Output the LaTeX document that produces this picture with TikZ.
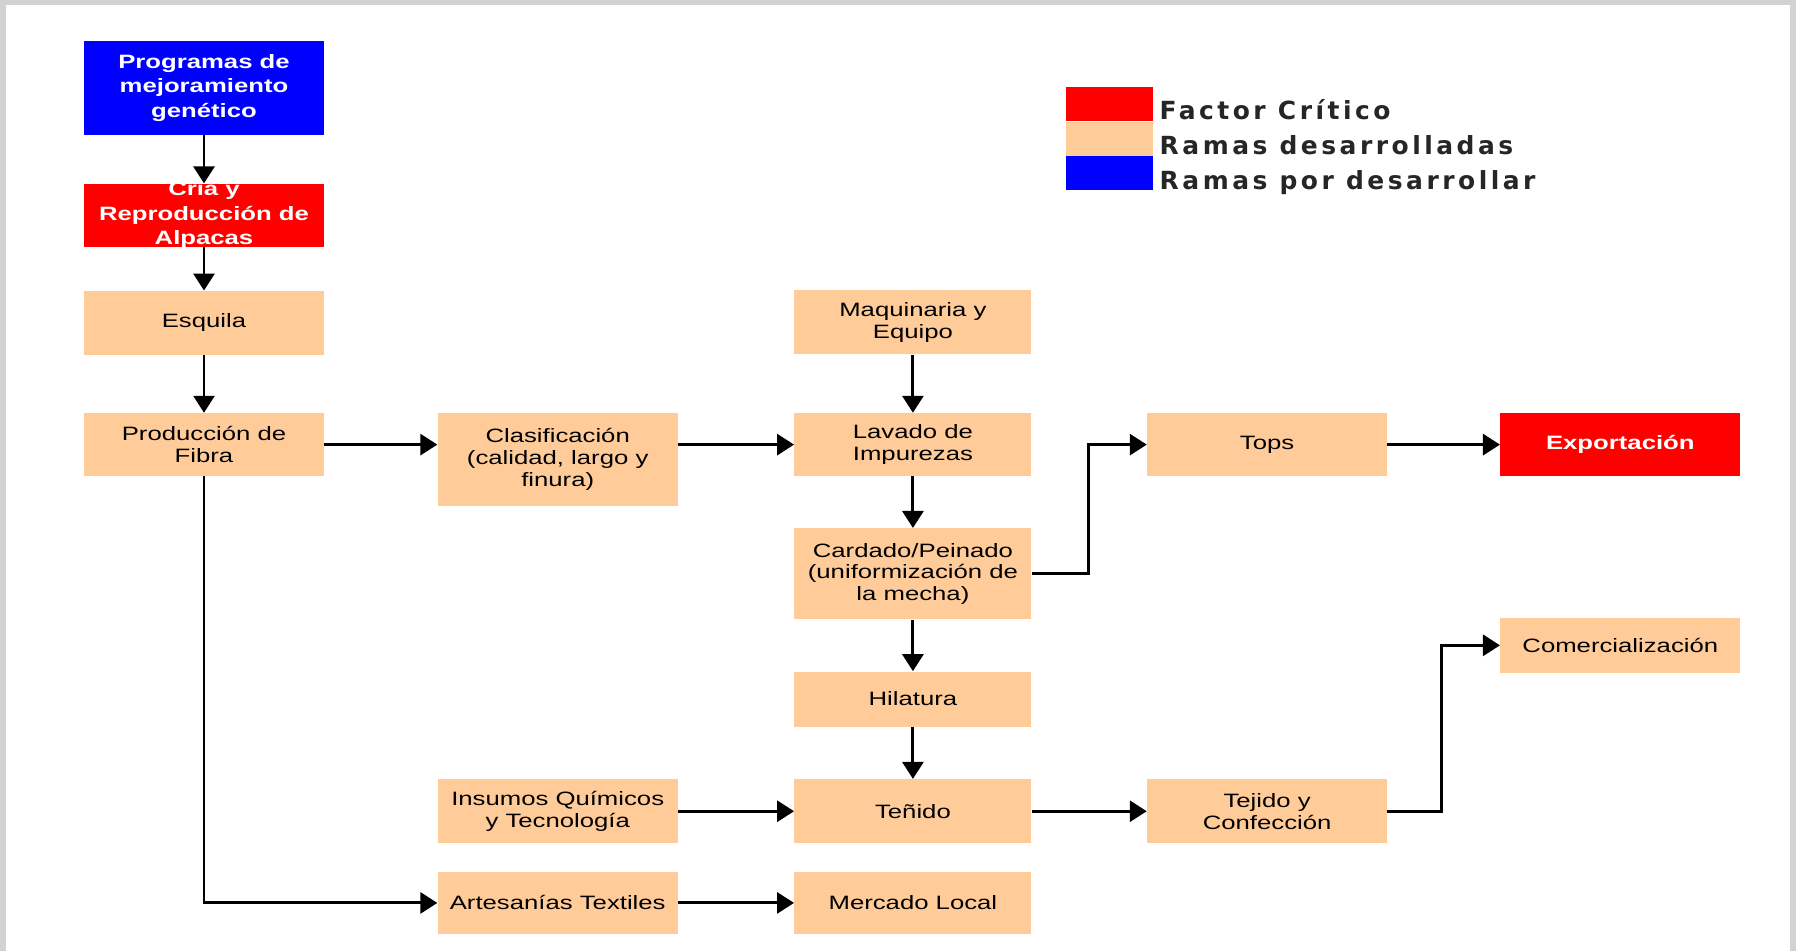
\documentclass[tikz,border=0pt]{standalone}
\usepackage{fontspec}
\usepackage{tikz}
\usetikzlibrary{arrows.meta, positioning}
\newfontfamily\cajafont[FakeStretch=1.33]{Liberation Sans}
\newfontfamily\leyendafont[LetterSpace=14]{DejaVu Sans}
\definecolor{rojocritico}{RGB}{255,0,0}
\definecolor{durazno}{RGB}{255,204,153}
\definecolor{azulrama}{RGB}{0,0,255}
\newcommand{\anchocaja}{4.8cm}
\newcommand{\altocaja}{1.28cm}
\tikzstyle{desarrollada} = [% rama desarrollada
  rectangle,
  minimum width=\anchocaja,
  minimum height=\altocaja,
  inner sep=0pt,
  align=center,
  text centered,
  fill=durazno,
  font=\cajafont\fontsize{11}{12.4}\selectfont
  ]
\tikzstyle{critico} = [% factor critico
  desarrollada,
  fill=rojocritico,
  text=white,
  font=\cajafont\bfseries\fontsize{11}{14}\selectfont
  ]
\tikzstyle{pordesarrollar} = [% rama por desarrollar
  critico,
  fill=azulrama
  ]
\tikzstyle{textocritico} = [% texto blanco que sobresale
  align=center,
  text=white,
  font=\cajafont\bfseries\fontsize{11}{14}\selectfont
  ]
\tikzstyle{leyenda} = [% cuadro de la leyenda
  rectangle,
  minimum width=1.74cm,
  minimum height=0.68cm,
  inner sep=0pt
  ]
\tikzstyle{leyendatexto} = [% texto de la leyenda
  anchor=base west,
  inner sep=0pt,
  text=black!85,
  font=\leyendafont\bfseries\fontsize{14.2}{16}\selectfont
  ]
\tikzstyle{arrow} = [% conector
  line width=1.7pt,
  ->,
  >={Triangle[length=0.34cm,width=0.42cm]}
  ]

\begin{document}
\begin{tikzpicture}

%%% Fondo
\useasboundingbox (0,0) rectangle (35.92,-19.02);
\fill[gray!35] (0,0) rectangle (35.92,-19.02);
\fill[white] (0.12,-0.1) rectangle (35.8,-19.02);

%%% Nodes
\node[pordesarrollar, minimum height=1.88cm] (programas) at (4.08,-1.76) {Programas de\\mejoramiento\\genético};
\node[critico, minimum height=1.26cm, below=0.96cm of programas,
  label={[textocritico]center:Cría y\\Reproducción de\\Alpacas}] (cria) {};
\node[desarrollada, below=0.87cm of cria] (esquila) {Esquila};
\node[desarrollada, minimum height=1.26cm, below=1.15cm of esquila] (produccion) {Producción de\\Fibra};
\node[desarrollada, minimum height=1.86cm, right=2.26cm of produccion.north east, anchor=north west] (clasificacion) {Clasificación\\(calidad, largo y\\finura)};
\node[desarrollada, minimum width=4.74cm, minimum height=1.26cm, right=2.32cm of clasificacion.north east, anchor=north west] (lavado) {Lavado de\\Impurezas};
\node[desarrollada, minimum width=4.74cm, above=1.16cm of lavado] (maquinaria) {Maquinaria y\\Equipo};
\node[desarrollada, minimum width=4.74cm, minimum height=1.82cm, below=1.03cm of lavado] (cardado) {Cardado/Peinado\\(uniformización de\\la mecha)};
\node[desarrollada, minimum width=4.74cm, minimum height=1.1cm, below=1.03cm of cardado] (hilatura) {Hilatura};
\node[desarrollada, minimum width=4.74cm, below=1.04cm of hilatura] (tenido) {Teñido};
\node[desarrollada, minimum width=4.74cm, minimum height=1.24cm, below=0.56cm of tenido] (mercado) {Mercado Local};
\node[desarrollada, left=2.32cm of tenido] (insumos) {Insumos Químicos\\y Tecnología};
\node[desarrollada, minimum height=1.24cm, left=2.32cm of mercado] (artesanias) {Artesanías Textiles};
\node[desarrollada, minimum height=1.26cm, right=2.3cm of lavado] (tops) {Tops};
\node[critico, minimum height=1.26cm, right=2.25cm of tops] (exportacion) {Exportación};
\node[desarrollada, minimum height=1.1cm, below=2.82cm of exportacion] (comercializacion) {Comercialización};
\node[desarrollada, right=2.3cm of tenido] (tejido) {Tejido y\\Confección};

%%% Leyenda
\node[leyenda, fill=rojocritico] (leycritico) at (22.19,-2.08) {};
\node[leyenda, fill=durazno, below=0pt of leycritico] (leydesarrolladas) {};
\node[leyenda, fill=azulrama, below=0pt of leydesarrolladas] (leypordesarrollar) {};
\node[leyendatexto] (txtcritico) at ([xshift=0.12cm, yshift=0.03cm]leycritico.south east) {Factor Crítico};
\node[leyendatexto] (txtdesarrolladas) at ([xshift=0.12cm, yshift=0.03cm]leydesarrolladas.south east) {Ramas desarrolladas};
\node[leyendatexto] (txtpordesarrollar) at ([xshift=0.12cm, yshift=0.03cm]leypordesarrollar.south east) {Ramas por desarrollar};

%%% Connectors
\draw[arrow] (programas) -- (cria);
\draw[arrow] (cria) -- (esquila);
\draw[arrow] (esquila) -- (produccion);
\draw[arrow] (produccion) -- (produccion -| clasificacion.west);
\draw[arrow] (clasificacion.east |- produccion) -- (lavado);
\draw[arrow] (maquinaria) -- (lavado);
\draw[arrow] (lavado) -- (cardado);
\draw[arrow] (cardado) -- (hilatura);
\draw[arrow] (hilatura) -- (tenido);
\draw[arrow] (cardado.east) -- ++(1.14cm,0) |- (tops.west);
\draw[arrow] (tops) -- (exportacion);
\draw[arrow] (insumos) -- (tenido);
\draw[arrow] (tenido) -- (tejido);
\draw[arrow] (tejido.east) -- ++(1.08cm,0) |- (comercializacion.west);
\draw[arrow] (produccion.south) |- (artesanias.west);
\draw[arrow] (artesanias) -- (mercado);

\end{tikzpicture}
\end{document}
